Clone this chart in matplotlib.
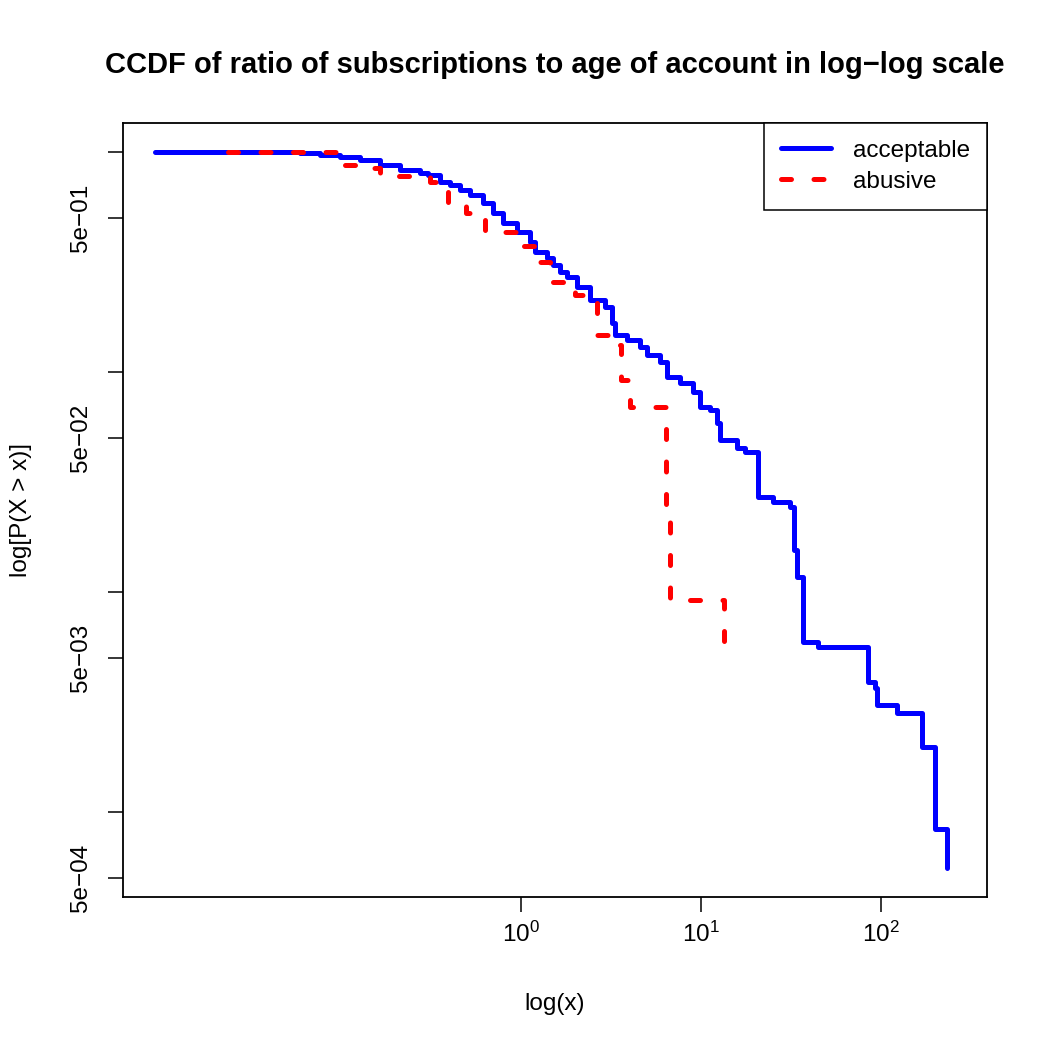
import matplotlib
matplotlib.use("Agg")
import matplotlib.pyplot as plt

# ===== DATA =====
acc_x = [0.00926, 0.0592, 0.0764, 0.0988, 0.1275, 0.1647, 0.2128, 0.2748, 0.3043, 0.3548,
         0.4033, 0.4583, 0.5207, 0.6150, 0.6990, 0.7943, 0.950, 1.122, 1.196, 1.395,
         1.506, 1.647, 1.801, 2.047, 2.417, 2.929, 3.203, 3.328, 3.880, 4.583,
         5.012, 5.920, 6.472, 7.643, 9.028, 9.87, 11.22, 12.27, 12.75, 15.85,
         17.55, 20.73, 25.12, 31.21, 32.86, 34.15, 36.87, 44.67, 84.7, 92.6,
         95.0, 122.7, 169.0, 199.5, 232.6]
acc_y = [1.0, 0.990, 0.969, 0.949, 0.920, 0.873, 0.828, 0.803, 0.786, 0.730,
         0.708, 0.672, 0.637, 0.586, 0.528, 0.476, 0.433, 0.390, 0.351, 0.330,
         0.307, 0.285, 0.270, 0.2433, 0.212, 0.1974, 0.1670, 0.1473, 0.1398, 0.1299,
         0.1195, 0.1111, 0.0949, 0.0891, 0.0811, 0.0693, 0.0672, 0.0586, 0.0491, 0.0451,
         0.0433, 0.0270, 0.0256, 0.0243, 0.01552, 0.01170, 0.00593, 0.00562, 0.00390, 0.00366,
         0.00306, 0.00282, 0.00197, 0.000837, 0.000556]

abu_x = [0.02357, 0.0962, 0.1275, 0.1647, 0.3122, 0.3930, 0.4948, 0.631, 0.987, 1.275,
         1.449, 1.995, 2.644, 3.203, 3.594, 4.033, 6.391, 6.725, 13.42]
abu_y = [1.0, 0.873, 0.846, 0.778, 0.730, 0.574, 0.528, 0.433, 0.374, 0.316,
         0.257, 0.224, 0.1473, 0.1327, 0.0920, 0.0693, 0.0231, 0.00920, 0.00562]

x_ticks = [1, 10, 100]
x_labels = [r"$10^0$", r"$10^1$", r"$10^2$"]
y_ticks = [1, 0.5, 0.1, 0.05, 0.01, 0.005, 0.001, 0.0005]
y_labels = ["", "5e\u221201", "", "5e\u221202", "", "5e\u221203", "", "5e\u221204"]

# ===== STYLE =====
plt.rcParams["font.family"] = ["Liberation Sans", "DejaVu Sans"]
plt.rcParams["mathtext.fontset"] = "custom"
plt.rcParams["mathtext.rm"] = "Liberation Sans"
plt.rcParams["mathtext.it"] = "Liberation Sans"

FS = 17.5

fig = plt.figure(figsize=(10.5, 10.5), dpi=100)
ax = fig.add_axes([0.1171, 0.1457, 0.8229, 0.7372])

ax.plot(acc_x, acc_y, drawstyle="steps-post", color="#0000ff", lw=3.6,
        solid_capstyle="round", solid_joinstyle="round", label="acceptable")
ax.plot(abu_x, abu_y, drawstyle="steps-post", color="#ff0000", lw=3.6,
        dashes=(2.0, 4.5), dash_capstyle="round", dash_joinstyle="round", label="abusive")

ax.set_xscale("log")
ax.set_yscale("log")
ax.set_xlim(10 ** -2.211, 10 ** 2.589)
ax.set_ylim(10 ** -3.386, 10 ** 0.132)

ax.set_xticks(x_ticks)
ax.set_xticklabels(x_labels)
ax.xaxis.set_minor_locator(matplotlib.ticker.NullLocator())
ax.set_yticks(y_ticks)
ax.set_yticklabels(y_labels, rotation=90, va="center")
ax.yaxis.set_minor_locator(matplotlib.ticker.NullLocator())
ax.tick_params(axis="both", length=11, width=1.1, labelsize=FS, direction="out")
ax.tick_params(axis="x", pad=7)
ax.tick_params(axis="y", pad=11.5)

for s in ax.spines.values():
    s.set_linewidth(1.3)

ax.set_title("CCDF of ratio of subscriptions to age of account in log\u2212log scale",
             fontsize=21, fontweight="bold", pad=36)
ax.set_xlabel("log(x)", fontsize=FS, labelpad=33)
ax.set_ylabel("log[P(X > x)]", fontsize=FS, labelpad=27)

leg = ax.legend(loc="upper right", borderaxespad=0, fancybox=False, framealpha=1,
                edgecolor="black", fontsize=FS, handlelength=2.06, handletextpad=0.9,
                borderpad=0.7, labelspacing=0.35)
leg.get_frame().set_linewidth(1.1)

fig.savefig("out.png", dpi=100)
